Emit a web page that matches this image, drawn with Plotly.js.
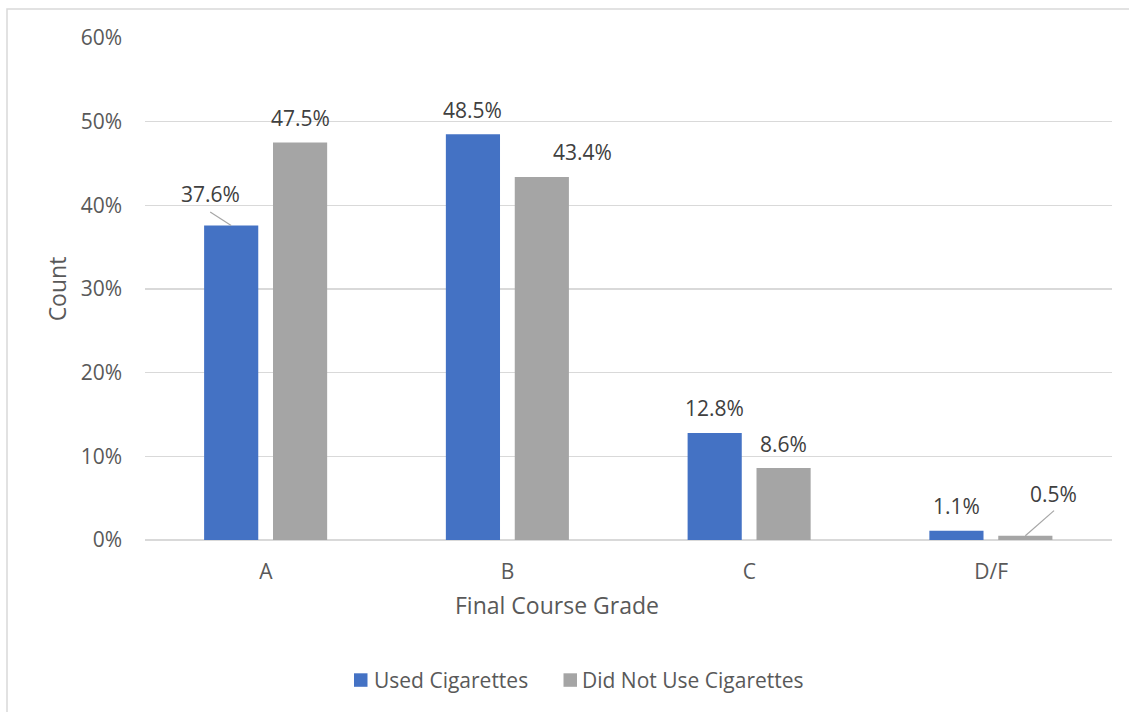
<!DOCTYPE html>
<html>
<head>
<meta charset="utf-8">
<script src="https://cdn.plot.ly/plotly-3.0.1.min.js"></script>
<style>
  html, body { margin: 0; padding: 0; background: #ffffff; }
  #chart { width: 1129px; height: 712px; }
</style>
</head>
<body>
<div id="chart"></div>
<script>
// Final course grade distribution by cigarette use (percent of each group)
const grades = ['A', 'B', 'C', 'D/F'];
const seriesNames = ['Used Cigarettes', 'Did Not Use Cigarettes'];
const usedCigarettes = [37.6, 48.5, 12.8, 1.1];
const didNotUseCigarettes = [47.5, 43.4, 8.6, 0.5];
const yTickValues = [0, 10, 20, 30, 40, 50, 60];
const xTitle = 'Final Course Grade';
const yTitle = 'Count';

const colors = ['#4472c4', '#a5a5a5'];
const FONT = 'Open Sans, Noto Sans, sans-serif';
const LABEL_SIZE = 21;
const TITLE_SIZE = 23;

// plot area geometry (px)
const W = 1129, H = 712;
const M = { l: 145, r: 17, t: 38, b: 172 };
const PW = W - M.l - M.r, PH = H - M.t - M.b;
const px2x = px => (px - M.l) / PW;
const px2y = py => (H - M.b - py) / PH;

// bar placement within each category slot
const barWidth = 0.224;
const offsets = [-0.2555, 0.0295];
const xIdx = grades.map((g, i) => i);

const allValues = [usedCigarettes, didNotUseCigarettes];

const traces = allValues.map((vals, s) => ({
  type: 'bar',
  name: seriesNames[s],
  x: xIdx,
  y: vals,
  width: barWidth,
  offset: offsets[s],
  marker: { color: colors[s], line: { width: 0 } },
  showlegend: false,
  hoverinfo: 'skip'
}));

// data label placement: [dx px, lift px above bar top]
const labelPos = [
  [[-21, 31.4], [0, 24.5], [0, 24.5], [0, 24.5]],
  [[0, 24.5], [41, 24.5], [0, 24.5], [28.5, 41.8]]
];
// leader lines: [series, category, dx, dy-up]
const leaders = [[0, 0, -21, 13.5], [1, 3, 28.7, 25.2]];

const annotations = [];
const shapes = [];

allValues.forEach((vals, s) => {
  vals.forEach((v, i) => {
    const [dx, lift] = labelPos[s][i];
    annotations.push({
      x: i + offsets[s] + barWidth / 2,
      y: v,
      xref: 'x', yref: 'y',
      text: v.toFixed(1) + '%',
      showarrow: false,
      xanchor: 'center', yanchor: 'middle',
      xshift: dx, yshift: lift,
      font: { family: FONT, size: LABEL_SIZE, color: '#404040' }
    });
  });
});

leaders.forEach(([s, i, dx, dy]) => {
  shapes.push({
    type: 'line',
    xref: 'x', yref: 'y',
    xsizemode: 'pixel', ysizemode: 'pixel',
    xanchor: i + offsets[s] + barWidth / 2,
    yanchor: allValues[s][i],
    x0: 0, y0: 0, x1: dx, y1: dy,
    line: { color: '#a6a6a6', width: 1.2 }
  });
});

// horizontal axis title, centred under the chart area rather than the plot
annotations.push({
  xref: 'paper', yref: 'paper',
  x: px2x(557), y: px2y(605),
  xanchor: 'center', yanchor: 'middle',
  text: xTitle, showarrow: false,
  font: { family: FONT, size: TITLE_SIZE, color: '#595959' }
});

// legend drawn beneath the axis title
const legendItems = [
  { sq: 354, text: 373 },
  { sq: 563.5, text: 581 }
];
legendItems.forEach((it, s) => {
  shapes.push({
    type: 'rect', xref: 'paper', yref: 'paper',
    x0: px2x(it.sq), x1: px2x(it.sq + 13.5),
    y0: px2y(686.8), y1: px2y(673.3),
    fillcolor: colors[s], line: { width: 0 }
  });
  annotations.push({
    xref: 'paper', yref: 'paper',
    x: px2x(it.text), y: px2y(680),
    xanchor: 'left', yanchor: 'middle',
    text: seriesNames[s], showarrow: false,
    borderpad: 0,
    font: { family: FONT, size: LABEL_SIZE, color: '#595959' }
  });
});

// chart area frame
shapes.push({
  type: 'rect', xref: 'paper', yref: 'paper',
  x0: px2x(7), x1: px2x(1140),
  y0: px2y(720), y1: px2y(9),
  line: { color: '#d9d9d9', width: 1.5 },
  fillcolor: 'rgba(0,0,0,0)', layer: 'below'
});

const layout = {
  width: W, height: H,
  autosize: false,
  margin: M,
  paper_bgcolor: '#ffffff',
  plot_bgcolor: '#ffffff',
  barmode: 'overlay',
  font: { family: FONT, size: LABEL_SIZE, color: '#595959' },
  xaxis: {
    type: 'linear',
    range: [-0.5, grades.length - 0.5],
    tickmode: 'array',
    tickvals: xIdx,
    ticktext: grades,
    showgrid: false,
    zeroline: false,
    showline: false,
    ticks: '',
    ticklabelstandoff: 17,
    tickfont: { family: FONT, size: LABEL_SIZE, color: '#595959' }
  },
  yaxis: {
    range: [0, 60],
    tickmode: 'array',
    tickvals: yTickValues,
    ticktext: yTickValues.map(v => v + '%'),
    showgrid: true,
    gridcolor: '#d9d9d9',
    gridwidth: 1.3,
    zeroline: true,
    zerolinecolor: '#d9d9d9',
    zerolinewidth: 1.3,
    showline: false,
    ticks: '',
    ticklabelstandoff: 22,
    tickfont: { family: FONT, size: LABEL_SIZE, color: '#595959' },
    title: { text: yTitle, standoff: 7, font: { family: FONT, size: TITLE_SIZE, color: '#595959' } }
  },
  annotations: annotations,
  shapes: shapes,
  showlegend: false
};

Plotly.newPlot('chart', traces, layout, { displayModeBar: false, staticPlot: true });
</script>
</body>
</html>
